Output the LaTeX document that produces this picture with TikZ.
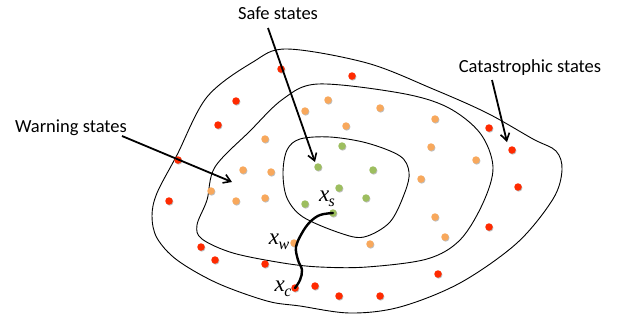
\documentclass[tikz,border=0pt]{standalone}
\usepackage{fontspec}
\setmainfont{Carlito}
\newfontfamily\tnrfont{Liberation Serif}
\usetikzlibrary{shadows,arrows.meta}
\definecolor{cred}{HTML}{FF2A00}
\definecolor{corange}{HTML}{F8A85C}
\definecolor{cgreen}{HTML}{9DBE5F}
\newcommand{\xlab}[1]{{\tnrfont\itshape\fontsize{23}{25}\selectfont x\kern-0.5pt\raisebox{-5pt}{\fontsize{16}{18}\selectfont #1}}}
\tikzset{
  dot/.style={circle, inner sep=0pt, minimum size=7.5pt, fill=#1, draw=none,
    drop shadow={shadow xshift=0.7pt, shadow yshift=-0.9pt, opacity=0.25, fill=black}},
  region/.style={draw=black, line width=0.9pt},
  lbl/.style={font=\fontsize{18.5}{21}\selectfont, inner sep=1pt},
  xlbl/.style={inner sep=0pt},
  pointer/.style={draw=black, line width=1.8pt, -{Straight Barb[length=7pt,width=9pt,line width=1.6pt]}},
  traj/.style={draw=black, line width=2.4pt, line cap=round}
}
\begin{document}
\begin{tikzpicture}[x=1pt,y=-1pt]
\useasboundingbox[fill=white] (0,0) rectangle (627,325);
% regions
\draw[region] plot[smooth cycle, tension=0.55] coordinates {
 (287,49) (367,63) (433,89) (487,113) (533,139) (556,151) (562,170) (553,199)
 (517,243) (460,283) (400,307) (350,313) (300,306) (267,301) (217,283) (177,260)
 (157,238) (152,216) (157,193) (177,155) (207,97) (253,62)};
\draw[region] plot[smooth cycle, tension=0.55] coordinates {
 (318,84) (400,93) (447,107) (480,133) (493,167) (483,203) (460,240) (427,259)
 (367,267) (320,267) (283,263) (233,253) (202,239) (197,225) (207,200) (215,167)
 (250,131) (283,99)};
\draw[region] plot[smooth cycle, tension=0.55] coordinates {
 (300,139) (330,137) (367,143) (400,156) (409,172) (405,192) (390,222) (364,237)
 (340,233) (303,217) (287,198) (283,173) (287,150)};
% red dots
\foreach \n/\p in {r1/{(281,69)}, r2/{(352,76)}, r3/{(236,101)}, r4/{(218,125)},
  r5/{(178,160)}, r6/{(169,201)}, r7/{(489,128)}, r8/{(512,150)}, r9/{(518,187)},
  r10/{(489,227)}, r11/{(201,247)}, r12/{(215,260)}, r13/{(265,264)},
  r14/{(315,286)}, r15/{(339,296)}, r16/{(380,296)}, r17/{(438,274)}}
  \node[dot=cred] (\n) at \p {};
% orange dots
\foreach \n/\p in {o1/{(328,100)}, o2/{(305,111)}, o3/{(380,108)}, o4/{(346,126)},
  o5/{(435,119)}, o6/{(431,147)}, o7/{(476,160)}, o8/{(265,139)}, o9/{(243,170)},
  o10/{(271,172)}, o11/{(211,191)}, o12/{(236,201)}, o13/{(265,198)},
  o14/{(421,179)}, o15/{(435,217)}, o16/{(445,237)}, o17/{(370,244)}}
  \node[dot=corange] (\n) at \p {};
% green dots
\foreach \n/\p in {g1/{(342,146)}, g2/{(318,167)}, g3/{(373,170)}, g4/{(339,188)},
  g5/{(366,198)}, g6/{(305,204)}}
  \node[dot=cgreen] (\n) at \p {};
% trajectory points
\node[dot=cgreen] (xs) at (333,213) {};
\node[dot=corange] (xw) at (294,243) {};
\node[dot=cred] (xc) at (295,288) {};
\draw[traj] plot[smooth, tension=0.6] coordinates {
 (xs.center) (320,215) (310,222) (302,233) (296,247) (298,260) (302,270) (300,280) (xc.center)};
\node[xlbl] (lxs) at (327,199) {\xlab{s}};
\node[xlbl] (lxw) at (279,242) {\xlab{w}};
\node[xlbl] (lxc) at (283,289) {\xlab{c}};
% labels and pointers
\node[lbl] (safe) at (278,13) {Safe states};
\node[lbl] (warn) at (71,128) {Warning states};
\node[lbl] (cata) at (530,68) {Catastrophic states};
\coordinate (safeA) at (268,28);
\coordinate (safeB) at (315,162);
\coordinate (warnA) at (122,136);
\coordinate (warnB) at (232,182);
\coordinate (cataA) at (492,80);
\coordinate (cataB) at (507,142);
\draw[pointer] (safeA) -- (safeB);
\draw[pointer] (warnA) -- (warnB);
\draw[pointer] (cataA) -- (cataB);
\end{tikzpicture}
\end{document}
